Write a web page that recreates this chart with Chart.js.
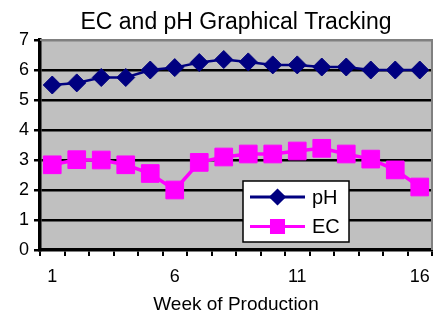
<!DOCTYPE html>
<html>
<head>
<meta charset="utf-8">
<script src="https://cdn.jsdelivr.net/npm/chart.js@4/dist/chart.umd.min.js"></script>
<style>
  html, body { margin: 0; padding: 0; background: #fff; }
  canvas { display: block; }
</style>
</head>
<body>
<canvas id="c" width="437" height="312"></canvas>
<script>
const weeks = ['1','2','3','4','5','6','7','8','9','10','11','12','13','14','15','16'];
const phValues = [5.5, 5.57, 5.75, 5.75, 6.0, 6.08, 6.25, 6.35, 6.27, 6.17, 6.17, 6.1, 6.1, 6.0, 6.0, 6.0];
const ecValues = [2.84, 3.01, 3.0, 2.84, 2.55, 2.0, 2.92, 3.1, 3.2, 3.2, 3.3, 3.39, 3.2, 3.03, 2.67, 2.1];
const yTicks = [0, 1, 2, 3, 4, 5, 6, 7];
const titleText = 'EC and pH Graphical Tracking';
const xTitle = 'Week of Production';

const FONT = "'Liberation Sans', Arial, sans-serif";

const plotBg = {
  id: 'plotBg',
  beforeDraw(chart) {
    const {ctx, chartArea: a} = chart;
    ctx.save();
    ctx.fillStyle = '#C0C0C0';
    ctx.fillRect(a.left, a.top, a.right - a.left, a.bottom - a.top);
    ctx.restore();
  },
  afterDatasetsDraw(chart) {
    const {ctx, chartArea: a} = chart;
    ctx.save();
    ctx.strokeStyle = '#808080';
    ctx.lineWidth = 2;
    ctx.beginPath();
    ctx.moveTo(a.left, a.top);
    ctx.lineTo(a.right, a.top);
    ctx.lineTo(a.right, a.bottom);
    ctx.stroke();
    ctx.restore();
  }
};

const boxLegend = {
  id: 'boxLegend',
  afterDraw(chart) {
    const {ctx, chartArea: a} = chart;
    const x = a.left + 203, y = a.top + 141, w = 106, h = 61;
    ctx.save();
    ctx.fillStyle = '#fff';
    ctx.fillRect(x, y, w, h);
    ctx.strokeStyle = '#000';
    ctx.lineWidth = 1.5;
    ctx.strokeRect(x, y, w, h);
    chart.data.datasets.forEach((ds, i) => {
      const cy = y + 16 + i * 29.5;
      ctx.strokeStyle = ds.borderColor;
      ctx.lineWidth = 3;
      ctx.beginPath();
      ctx.moveTo(x + 7, cy);
      ctx.lineTo(x + 62, cy);
      ctx.stroke();
      ctx.fillStyle = ds.backgroundColor;
      ctx.strokeStyle = ds.borderColor;
      Chart.helpers.drawPoint(ctx, {
        pointStyle: ds.pointStyle,
        radius: ds.legendRadius,
        borderWidth: 1
      }, x + 34.5, cy);
      ctx.fillStyle = '#000';
      ctx.font = '20px ' + FONT;
      ctx.textBaseline = 'middle';
      ctx.textAlign = 'left';
      ctx.fillText(ds.label, x + 69, cy + 1);
    });
    ctx.restore();
  }
};

new Chart(document.getElementById('c'), {
  type: 'line',
  data: {
    labels: weeks,
    datasets: [
      {
        label: 'pH',
        data: phValues,
        borderColor: '#000080',
        backgroundColor: '#000080',
        borderWidth: 2.5,
        pointStyle: 'rectRot',
        pointRadius: 9,
        pointBorderWidth: 1,
        legendRadius: 6.5,
        tension: 0
      },
      {
        label: 'EC',
        data: ecValues,
        borderColor: '#FF00FF',
        backgroundColor: '#FF00FF',
        borderWidth: 3.5,
        pointStyle: 'rect',
        pointRadius: 12.5,
        pointBorderWidth: 1,
        legendRadius: 8.5,
        tension: 0
      }
    ]
  },
  options: {
    responsive: false,
    animation: false,
    devicePixelRatio: 1,
    layout: { autoPadding: false, padding: { left: 0, right: 5, top: 0, bottom: 0 } },
    plugins: {
      legend: { display: false },
      tooltip: { enabled: false },
      title: {
        display: true,
        text: titleText,
        fullSize: false,
        color: '#000',
        font: { family: FONT, size: 23, weight: 'normal', lineHeight: 1.2 },
        padding: { top: 9, bottom: 3.4 }
      }
    },
    scales: {
      x: {
        type: 'category',
        offset: true,
        afterFit(scale) {
          scale.height = 62;
          scale.paddingLeft = 0;
          scale.paddingRight = 0;
        },
        grid: {
          offset: true,
          drawOnChartArea: false,
          drawTicks: true,
          tickLength: 6,
          color: '#000',
          lineWidth: 2
        },
        border: { display: true, color: '#000', width: 3.5 },
        ticks: {
          autoSkip: false,
          maxRotation: 0,
          color: '#000',
          padding: 10,
          font: { family: FONT, size: 18 },
          callback(val, idx) { return idx % 5 === 0 ? this.getLabelForValue(val) : ''; }
        },
        title: {
          display: true,
          text: xTitle,
          color: '#000',
          font: { family: FONT, size: 19, lineHeight: 0.8 },
          padding: { top: 0, bottom: 0 }
        }
      },
      y: {
        min: yTicks[0],
        max: yTicks[yTicks.length - 1],
        afterFit(scale) {
          scale.width = 40;
          scale.paddingTop = 0;
          scale.paddingBottom = 0;
        },
        afterBuildTicks(scale) { scale.ticks = yTicks.map(v => ({ value: v })); },
        grid: {
          color: (c) => (c.tick && c.tick.value === 7) ? '#808080' : (c.tick && c.tick.value === 0 ? 'rgba(0,0,0,0)' : '#000'),
          tickColor: '#000',
          lineWidth: 2.5,
          tickLength: 6,
          drawTicks: true
        },
        border: { display: true, color: '#000', width: 3.5 },
        ticks: {
          color: '#000',
          padding: 5,
          font: { family: FONT, size: 18 }
        }
      }
    }
  },
  plugins: [plotBg, boxLegend]
});
</script>
</body>
</html>
